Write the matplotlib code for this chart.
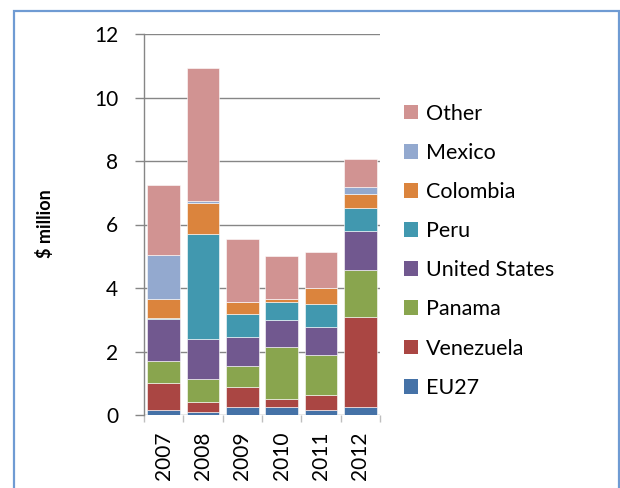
import matplotlib
matplotlib.use("Agg")
import matplotlib.pyplot as plt
from matplotlib.patches import Rectangle, Patch
import numpy as np

years = ["2007", "2008", "2009", "2010", "2011", "2012"]
series_names = ["EU27", "Venezuela", "Panama", "United States", "Peru",
                "Colombia", "Mexico", "Other"]
eu27 = [0.17, 0.09, 0.25, 0.25, 0.17, 0.25]
venezuela = [0.84, 0.32, 0.63, 0.25, 0.46, 2.84]
panama = [0.69, 0.72, 0.66, 1.64, 1.26, 1.48]
united_states = [1.33, 1.27, 0.92, 0.85, 0.88, 1.23]
peru = [0.03, 3.31, 0.72, 0.57, 0.73, 0.73]
colombia = [0.60, 0.97, 0.38, 0.10, 0.50, 0.44]
mexico = [1.38, 0.06, 0.00, 0.00, 0.00, 0.21]
other = [2.21, 4.20, 1.99, 1.35, 1.14, 0.89]
yticks = [0, 2, 4, 6, 8, 10, 12]

series = [eu27, venezuela, panama, united_states, peru, colombia, mexico, other]
colors = ["#4572A7", "#AA4643", "#89A54E", "#71588F", "#4198AF",
          "#DB843D", "#93A9CF", "#D19392"]

plt.rcParams["font.family"] = ["Lato", "DejaVu Sans"]

W, H = 620, 488
fig = plt.figure(figsize=(W / 100, H / 100), dpi=100)
fig.patch.set_facecolor("white")

# outer chart frame
fig.add_artist(Rectangle((13.5 / W, -0.05), (619 - 13.5) / W, 1.05 - 10.5 / H,
                         transform=fig.transFigure, fill=False,
                         edgecolor="#6F9BD3", linewidth=1.6))

left, right, top, bottom = 144, 380, 34, 415
ax = fig.add_axes([left / W, 1 - bottom / H, (right - left) / W, (bottom - top) / H])

x = np.arange(len(years))
base = np.zeros(len(years))
for vals, col in zip(series, colors):
    ax.bar(x, vals, bottom=base, width=0.83, color=col,
           edgecolor="white", linewidth=0.4, zorder=3)
    base += np.array(vals)

ax.set_xlim(-0.5, len(years) - 0.5)
ax.set_ylim(0, 12)
ax.set_yticks(yticks)
ax.set_yticklabels([str(t) for t in yticks], fontsize=15)
ax.yaxis.grid(True, color="#868686", linewidth=1.0, zorder=0)
ax.tick_params(axis="y", length=6.5, width=1.0, color="#868686", pad=12)

ax.set_xticks(x)
ax.set_xticklabels(years, rotation=90, fontsize=15)
ax.set_xticks(np.arange(len(years) + 1) - 0.5, minor=True)
ax.tick_params(axis="x", which="major", length=0, pad=12)
ax.tick_params(axis="x", which="minor", length=5, width=1.0, color="#BFBFBF")

for s in ["top", "right", "bottom"]:
    ax.spines[s].set_visible(False)
ax.spines["left"].set_color("#868686")
ax.spines["left"].set_linewidth(1.0)

fig.text(45 / W, 1 - 224 / H, "$ million", rotation=90, fontsize=13,
         fontweight="bold", ha="center", va="center")

handles = [Patch(facecolor=c, edgecolor="none") for c in colors][::-1]
labels = series_names[::-1]
fig.legend(handles, labels, loc="upper left",
           bbox_to_anchor=(395 / W, 1 - 95 / H), frameon=False,
           fontsize=15.5, handlelength=0.68, handleheight=0.68,
           handletextpad=0.35, labelspacing=0.89, borderaxespad=0)

fig.savefig("out.png", dpi=100)
